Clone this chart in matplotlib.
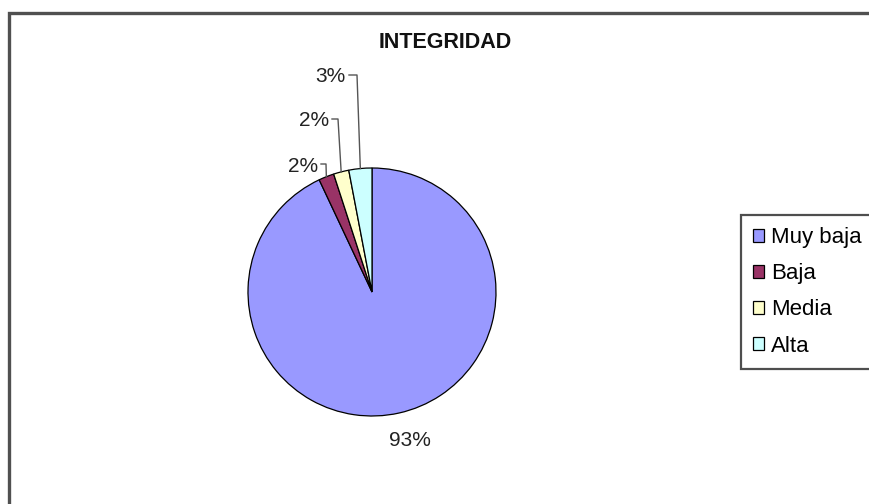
"""Pie chart INTEGRIDAD: distribución por nivel."""

import numpy as np
import matplotlib
matplotlib.use("Agg")
import matplotlib.pyplot as plt
from matplotlib.patches import Rectangle

plt.rcParams["font.family"] = ["Liberation Sans", "DejaVu Sans"]

TITLE = "INTEGRIDAD"
categories = ["Muy baja", "Baja", "Media", "Alta"]
values = [93, 2, 2, 3]
colors = ["#9999FF", "#993366", "#FFFFCC", "#CCFFFF"]

W, H = 869, 504
CX, CY, R = 372, H - 292, 124
FS = 15

fig = plt.figure(figsize=(W / 100, H / 100), dpi=100)
ax = fig.add_axes([0, 0, 1, 1])

wedges, _ = ax.pie(values, colors=colors, startangle=90, counterclock=False,
                   center=(CX, CY), radius=R,
                   wedgeprops=dict(edgecolor="black", linewidth=0.9))
ax.set_xlim(0, W)
ax.set_ylim(0, H)
ax.set_aspect("equal")
ax.axis("off")

# outer chart frame (cropped at right and bottom like the source)
ax.add_patch(Rectangle((9, -20), W + 40, H - 13 + 20, facecolor="none",
                       edgecolor="#505050", linewidth=2.4, zorder=0))

ax.text(445, H - 43, TITLE, ha="center", va="center", fontsize=15.5,
        fontweight="bold", color="#111")

total = sum(values)
pct = [f"{round(v / total * 100)}%" for v in values]

# big slice label below the pie
ax.text(410, H - 440, pct[0], ha="center", va="center", fontsize=FS,
        color="#222")

# small slices: label right edge / height and leader-line elbow x
label_pos = {1: (318, H - 166), 2: (329, H - 121), 3: (346, H - 77)}
elbow_x = {1: 326, 2: 338, 3: 357}
for i, (tx, ty) in label_pos.items():
    w = wedges[i]
    mid = np.deg2rad((w.theta1 + w.theta2) / 2)
    ex, ey = CX + R * np.cos(mid), CY + R * np.sin(mid)
    bx = elbow_x[i]
    ax.plot([tx + 3, bx, ex], [ty + 2, ty + 2, ey], color="#555",
            linewidth=1.0)
    ax.text(tx, ty, pct[i], ha="right", va="center", fontsize=FS,
            color="#222")

leg = ax.legend(wedges, categories, loc="upper left",
                bbox_to_anchor=(741 / W, 1 - 215 / H),
                bbox_transform=fig.transFigure, fontsize=16,
                frameon=True, fancybox=False, edgecolor="#222",
                handlelength=0.5, handleheight=0.5, handletextpad=0.3,
                labelspacing=0.68, borderpad=0.55, borderaxespad=0)
leg.get_frame().set_linewidth(1.6)

fig.savefig("out.png", dpi=100, facecolor="white")
